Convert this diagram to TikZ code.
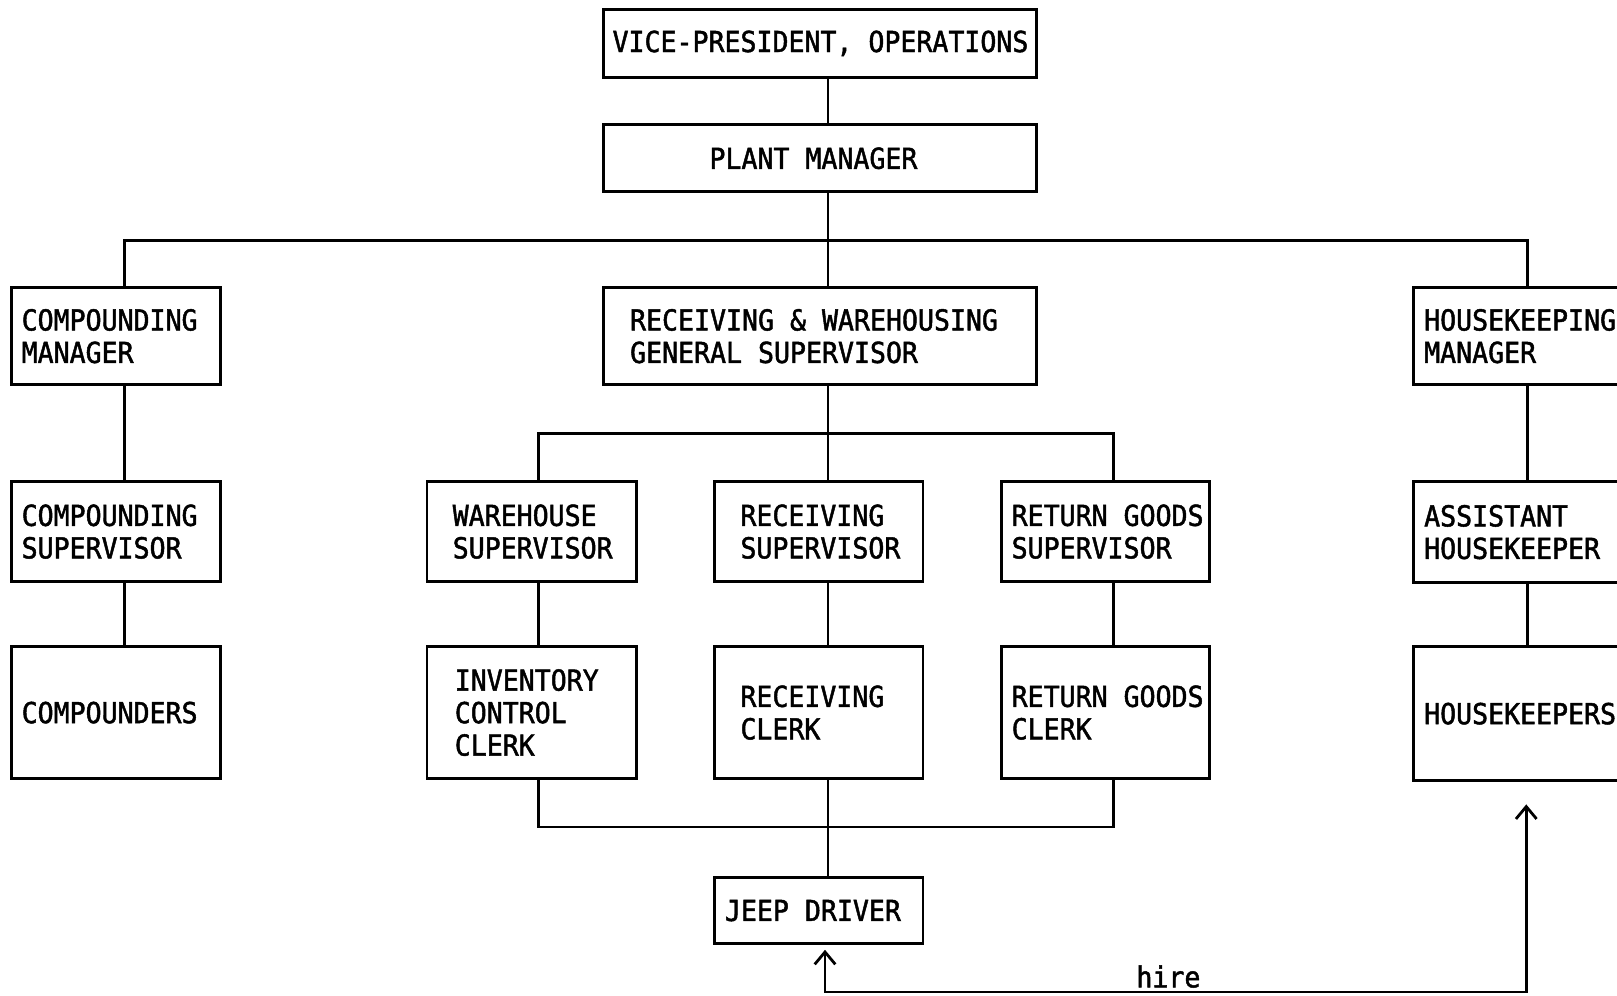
\documentclass[tikz,border=0pt]{standalone}
\usepackage{fontspec}
\newfontfamily\typer[FakeStretch=0.92,FakeBold=1.6]{DejaVu Sans Mono}
% typewriter face: every space exactly one character wide
\newcommand\chartfont{\typer\fontsize{14}{15.75}\selectfont
  \fontdimen2\font=\fontcharwd\font`X\relax
  \fontdimen3\font=0pt\relax\fontdimen4\font=0pt\relax}
\usetikzlibrary{arrows.meta}
\begin{document}
\begin{tikzpicture}[x=0.5pt,y=-0.5pt,
  box/.style={draw, line width=1.35pt, outer sep=0pt, anchor=north west,
    inner ysep=0pt, align=flush left, font=\chartfont},
  sized/.style n args={4}{minimum width=#1pt, minimum height=#2pt,
    inner xsep=#3pt, text width=#4pt},
  link/.style={line width=1.35pt},
  hirelink/.style={line width=1.35pt,
    {Straight Barb[length=6pt,width=10pt]}-{Straight Barb[length=6pt,width=10pt]}}]
\useasboundingbox (0,0) rectangle (1568,965);

% top of the chart
\node[box, sized={210}{33}{4.5}{201}] (vp) at (585,9) {\mbox{VICE-PRESIDENT,~OPERATIONS}};
\node[box, sized={210}{32.5}{51.5}{107}] (pm) at (585,121) {PLANT~MANAGER};

% second level
\node[box, sized={101.5}{47}{5}{91.5}] (cm) at (11,279) {COMPOUNDING\\MANAGER};
\node[box, sized={210}{47}{13}{184}] (rw) at (585,279)
  {RECEIVING~\&~WAREHOUSING\\GENERAL~SUPERVISOR};
\node[box, sized={125}{47}{5}{115}] (hm) at (1371,279) {HOUSEKEEPING\\MANAGER};

% supervisors
\node[box, sized={101.5}{48.5}{5}{91.5}] (cs) at (11,467) {COMPOUNDING\\SUPERVISOR};
\node[box, sized={101.5}{48.5}{12.5}{76.5}] (ws) at (414,467) {WAREHOUSE\\SUPERVISOR};
\node[box, sized={101}{48.5}{12.5}{76}] (rs) at (693,467) {RECEIVING\\SUPERVISOR};
\node[box, sized={101}{48.5}{5}{91}] (rg) at (971,467) {RETURN~GOODS\\SUPERVISOR};
\node[box, sized={125}{49}{5}{115}] (ah) at (1371,467) {ASSISTANT\\HOUSEKEEPER};

% staff
\node[box, sized={101.5}{64}{5}{91.5}] (co) at (11,627) {COMPOUNDERS};
\node[box, sized={101.5}{64}{13.5}{74.5}] (ic) at (414,627) {INVENTORY\\CONTROL\\CLERK};
\node[box, sized={101}{64}{12.5}{76}] (rc) at (693,627) {RECEIVING\\CLERK};
\node[box, sized={101}{64}{5}{91}] (gc) at (971,627) {RETURN~GOODS\\CLERK};
\node[box, sized={125}{65}{5}{115}] (hk) at (1371,627) {HOUSEKEEPERS};

\node[box, sized={101}{32}{5}{91}] (jd) at (693,851) {JEEP~DRIVER};

% junction points of the connector lines
\coordinate (spine) at (803,233);
\coordinate (leftbus) at (121,233);
\coordinate (rightbus) at (1481,233);
\coordinate (midleft) at (522,420);
\coordinate (midright) at (1080,420);
\coordinate (lowleft) at (522,802);
\coordinate (lowright) at (1080,802);
\coordinate (hireright) at (1480,962);
\coordinate (hireleft) at (800,962);

% reporting lines
\draw[link] (vp.south -| spine) -- (pm.north -| spine);
\draw[link] (pm.south -| spine) -- (rw.north -| spine);
\draw[link] (cm.north -| leftbus) -- (leftbus) -- (rightbus) -- (hm.north -| rightbus);
\draw[link] (cm.south -| leftbus) -- (cs.north -| leftbus);
\draw[link] (cs.south -| leftbus) -- (co.north -| leftbus);
\draw[link] (hm.south -| rightbus) -- (ah.north -| rightbus);
\draw[link] (ah.south -| rightbus) -- (hk.north -| rightbus);
\draw[link] (rw.south -| spine) -- (rs.north -| spine);
\draw[link] (ws.north -| midleft) -- (midleft) -- (midright) -- (rg.north -| midright);
\draw[link] (ws.south -| midleft) -- (ic.north -| midleft);
\draw[link] (rs.south -| spine) -- (rc.north -| spine);
\draw[link] (rg.south -| midright) -- (gc.north -| midright);
\draw[link] (ic.south -| lowleft) -- (lowleft) -- (lowright) -- (gc.south -| lowright);
\draw[link] (rc.south -| spine) -- (jd.north -| spine);

% hire loop
\draw[hirelink] ([yshift=-11.5pt]hk.south -| hireright) -- (hireright)
  -- (hireleft) -- ([yshift=-3pt]jd.south -| hireleft);
\node[font=\chartfont, inner sep=0pt] (hire) at (1133,947) {hire};
\end{tikzpicture}
\end{document}
